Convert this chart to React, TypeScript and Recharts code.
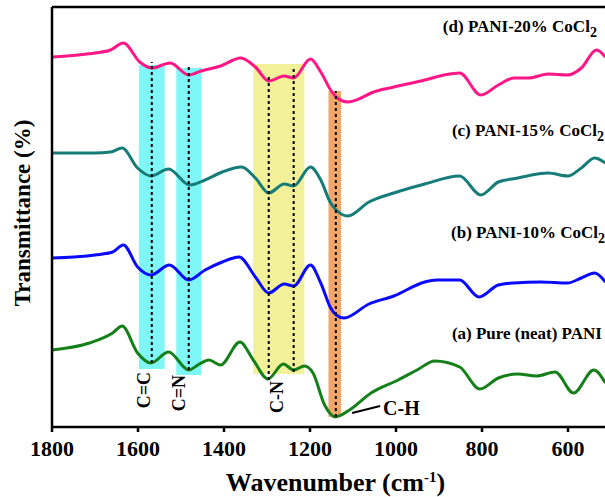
import {
  ComposedChart,
  Line,
  XAxis,
  YAxis,
  ReferenceArea,
  ReferenceLine,
  ReferenceDot,
} from "recharts";

// wavenumber (cm-1) / transmittance (a.u., stacked with offsets)
const neatPani = [
  [1800, 77], [1713, 84], [1659, 94], [1637, 101], [1601, 74], [1570, 64],
  [1529, 75], [1482, 57], [1457, 63], [1435, 67], [1408, 62], [1363, 85],
  [1332, 67], [1298, 48], [1262, 63], [1238, 57], [1213, 61], [1193, 54],
  [1166, 22], [1141, 10], [1108, 17], [1058, 34], [995, 47], [951, 57],
  [910, 66], [852, 60], [805, 38], [762, 49], [717, 53], [673, 51],
  [630, 55], [587, 34], [540, 57], [513, 44],
];

const pani10 = [
  [1800, 169], [1700, 172], [1659, 175], [1634, 182], [1601, 160], [1570, 152],
  [1527, 162], [1482, 147], [1444, 157], [1404, 165], [1365, 170], [1327, 150],
  [1296, 134], [1260, 143], [1238, 141], [1199, 162], [1175, 144], [1152, 119],
  [1139, 112], [1121, 109], [1063, 123], [1005, 131], [933, 145], [906, 147],
  [852, 147], [807, 130], [762, 142], [726, 144], [664, 145], [601, 144],
  [569, 149], [538, 154], [513, 145],
];

const pani15 = [
  [1800, 274], [1700, 274], [1664, 275], [1637, 279], [1601, 259], [1570, 251],
  [1529, 258], [1480, 242], [1444, 247], [1404, 255], [1359, 260], [1327, 249],
  [1296, 234], [1260, 243], [1238, 241], [1199, 260], [1175, 247], [1152, 224],
  [1139, 217], [1112, 211], [1063, 225], [1005, 234], [933, 243], [852, 251],
  [803, 232], [762, 245], [717, 249], [646, 254], [601, 251], [569, 259],
  [538, 269], [513, 264],
];

const pani20 = [
  [1800, 370], [1740, 372], [1700, 374], [1664, 377], [1634, 384], [1596, 365],
  [1568, 359], [1525, 364], [1482, 352], [1453, 356], [1408, 361], [1361, 369],
  [1327, 360], [1296, 346], [1260, 351], [1238, 349], [1199, 368], [1175, 355],
  [1152, 337], [1139, 330], [1112, 325], [1081, 329], [1058, 334], [1005, 340],
  [933, 347], [888, 352], [852, 354], [803, 332], [762, 342], [726, 349],
  [691, 349], [646, 353], [601, 352], [569, 359], [534, 377], [513, 370],
];

const xTicks = [1800, 1600, 1400, 1200, 1000, 800, 600];

// shaded bands: [from, to, bottom, top, colour]
const bands: [number, number, number, number, string][] = [
  [1598, 1538, 58, 362, "#7ff7f7"],
  [1511, 1453, 52, 359, "#7ff7f7"],
  [1332, 1213, 53, 363, "#f3f09a"],
  [1157, 1128, 10, 336, "#f2a66a"],
];

// dashed peak markers: [wavenumber, bottom, top]
const peaks: [number, number, number][] = [
  [1568, 64, 365],
  [1482, 57, 362],
  [1296, 47, 350],
  [1238, 55, 360],
  [1140, 10, 336],
];

const bondLabels: [string, number, number][] = [
  ["C=C", 1586, 37],
  ["C=N", 1505, 34],
  ["C-N", 1277, 30],
];

const seriesLabels: [string, string, number, number][] = [
  ["(d) PANI-20% CoCl", "2", 891, 395],
  ["(c) PANI-15% CoCl", "2", 870, 291],
  ["(b) PANI-10% CoCl", "2", 872, 189],
  ["(a) Pure (neat) PANI", "", 870, 88],
];

const toRows = (arr: number[][]) => arr.map(([w, t]) => ({ w, t }));

const FONT = "'Liberation Serif', 'Times New Roman', serif";

const XTitle = (props: any) => {
  const vb = props.viewBox || {};
  const cx = (vb.x ?? 52) + (vb.width ?? 559) / 2 + 4;
  return (
    <text x={cx} y={491} textAnchor="middle" fontFamily={FONT} fontWeight="bold" fontSize={26} fill="#000">
      Wavenumber (cm
      <tspan dy={-9} fontSize={15}>-1</tspan>
      <tspan dy={9}>)</tspan>
    </text>
  );
};

const YTitle = () => (
  <text
    x={22}
    y={213}
    transform="rotate(-90, 22, 213)"
    textAnchor="middle"
    dominantBaseline="central"
    fontFamily={FONT}
    fontWeight="bold"
    fontSize={23}
    fill="#000"
  >
    Transmittance (%)
  </text>
);

export default function App() {
  return (
    <div style={{ position: "absolute", left: 0, top: 0, width: 605, height: 497, overflow: "hidden", background: "#fff" }}>
      <ComposedChart width={640} height={497} margin={{ top: 7, right: 29, left: 0, bottom: 0 }}>
        <XAxis
          dataKey="w"
          type="number"
          domain={[500, 1800]}
          reversed
          ticks={xTicks}
          allowDataOverflow
          height={70}
          stroke="#000"
          strokeWidth={2.5}
          tickSize={5}
          tickMargin={8}
          tick={{ fill: "#000", fontFamily: FONT, fontWeight: "bold", fontSize: 22 }}
          label={<XTitle />}
        />
        <YAxis
          type="number"
          domain={[0, 420]}
          width={52}
          tick={false}
          tickLine={false}
          stroke="#000"
          strokeWidth={2.5}
          label={<YTitle />}
        />
        <ReferenceLine y={420} stroke="#000" strokeWidth={2.5} ifOverflow="visible" />

        {bands.map(([x1, x2, y1, y2, c], i) => (
          <ReferenceArea key={"b" + i} x1={x1} x2={x2} y1={y1} y2={y2} fill={c} fillOpacity={1} stroke="none" />
        ))}

        <Line data={toRows(neatPani)} dataKey="t" type="monotone" stroke="#15801a" strokeWidth={3} dot={false} isAnimationActive={false} />
        <Line data={toRows(pani10)} dataKey="t" type="monotone" stroke="#0a0aff" strokeWidth={3} dot={false} isAnimationActive={false} />
        <Line data={toRows(pani15)} dataKey="t" type="monotone" stroke="#167c78" strokeWidth={3} dot={false} isAnimationActive={false} />
        <Line data={toRows(pani20)} dataKey="t" type="monotone" stroke="#ff1687" strokeWidth={3} dot={false} isAnimationActive={false} />

        {peaks.map(([x, y1, y2], i) => (
          <ReferenceLine
            key={"p" + i}
            segment={[{ x, y: y1 }, { x, y: y2 }]}
            stroke="#000"
            strokeWidth={2}
            strokeDasharray="3 3"
          />
        ))}

        {bondLabels.map(([txt, x, y], i) => (
          <ReferenceDot
            key={"l" + i}
            x={x}
            y={y}
            r={0}
            shape={(p: any) => (
              <text
                x={p.cx}
                y={p.cy}
                transform={`rotate(-90, ${p.cx}, ${p.cy})`}
                textAnchor="middle"
                dominantBaseline="central"
                fontFamily={FONT}
                fontWeight="bold"
                fontSize={18}
                fill="#000"
              >
                {txt}
              </text>
            )}
          />
        ))}

        <ReferenceLine segment={[{ x: 1102, y: 14 }, { x: 1037, y: 21 }]} stroke="#000" strokeWidth={2} />
        <ReferenceDot
          x={1030}
          y={19}
          r={0}
          shape={(p: any) => (
            <text x={p.cx} y={p.cy} dominantBaseline="central" fontFamily={FONT} fontWeight="bold" fontSize={20} fill="#000">
              C-H
            </text>
          )}
        />

        {seriesLabels.map(([txt, sub, x, y], i) => (
          <ReferenceDot
            key={"s" + i}
            x={x}
            y={y}
            r={0}
            shape={(p: any) => (
              <text x={p.cx} y={p.cy} fontFamily={FONT} fontWeight="bold" fontSize={17} fill="#000">
                {txt}
                {sub && <tspan dy={5} fontSize={14}>{sub}</tspan>}
              </text>
            )}
          />
        ))}
      </ComposedChart>
    </div>
  );
}
